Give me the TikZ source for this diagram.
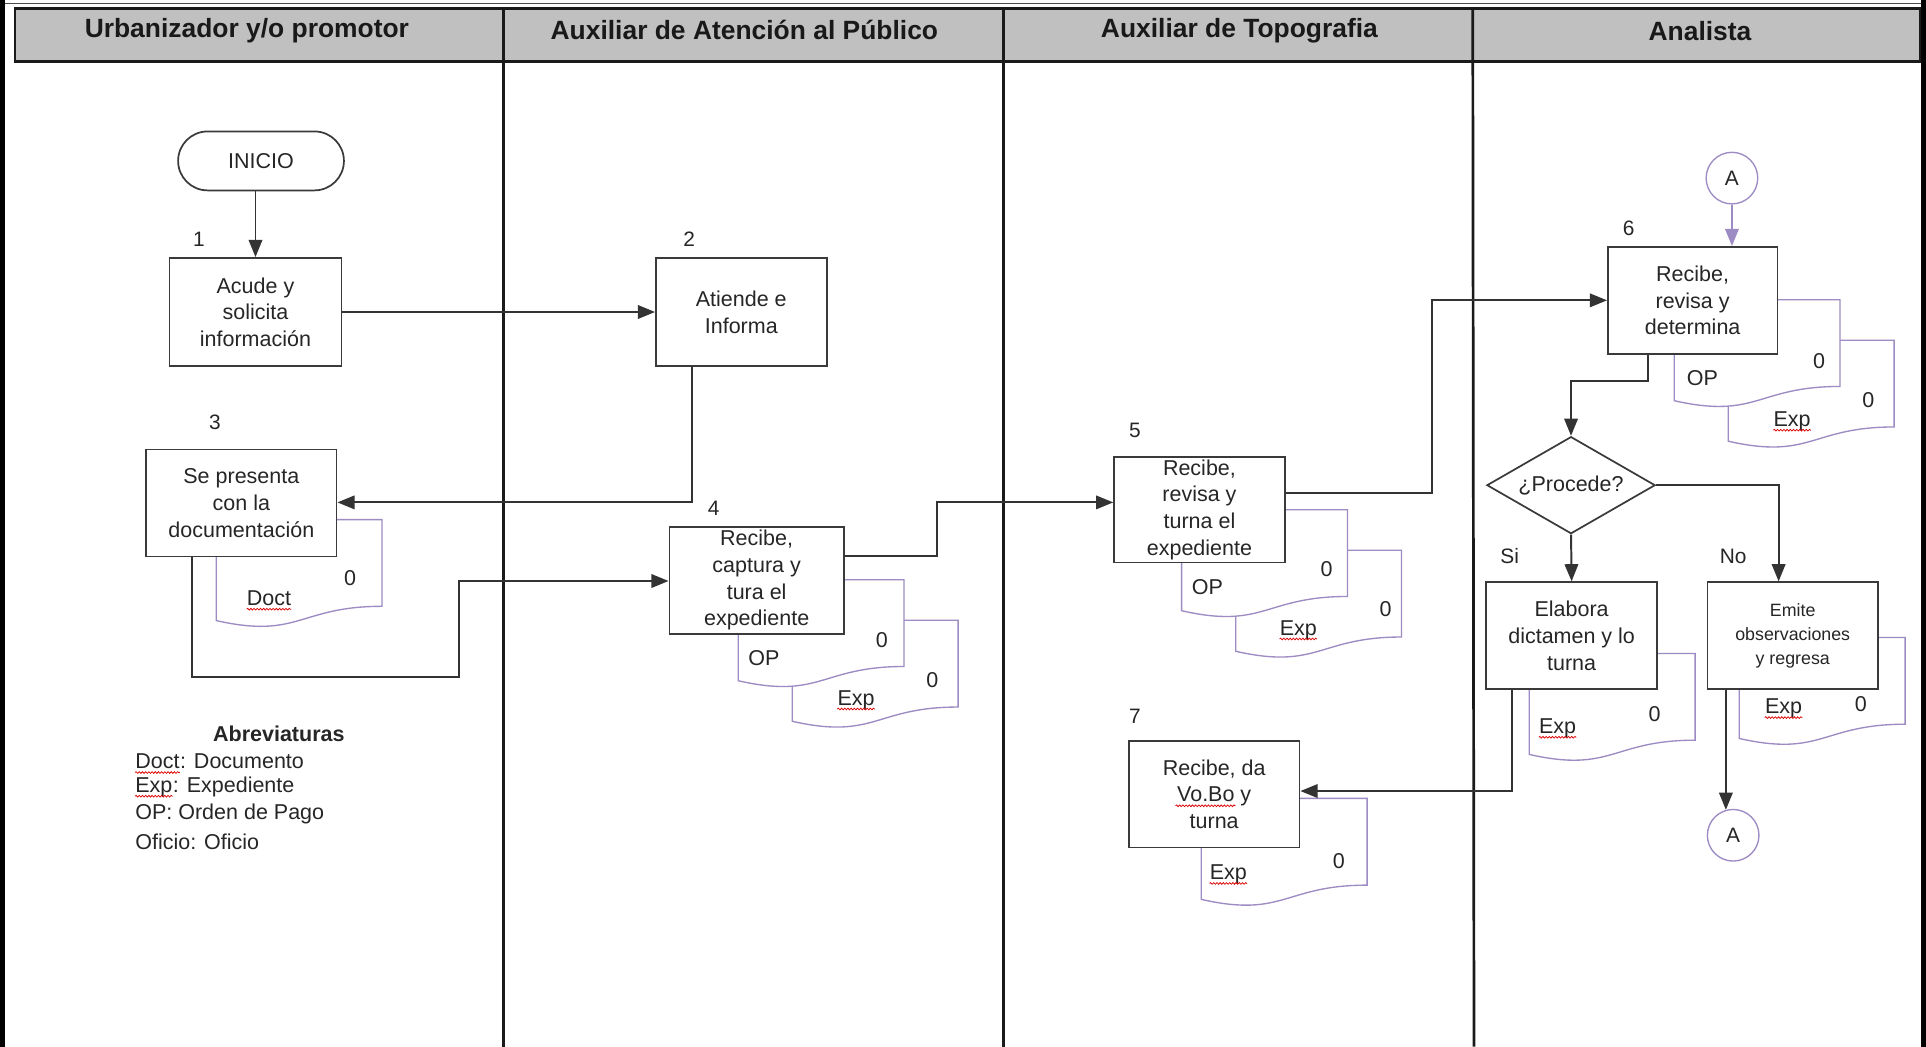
\documentclass[tikz,border=0pt]{standalone}
\usepackage{fontspec}
\setmainfont{Liberation Sans}
\usetikzlibrary{arrows.meta,shapes.geometric,decorations.pathmorphing}
\definecolor{txt}{HTML}{262626}
\definecolor{lanec}{HTML}{1A1A1A}
\definecolor{conn}{HTML}{333333}
\definecolor{boxc}{HTML}{3A3A3A}
\definecolor{docc}{HTML}{9D8CC4}
\definecolor{hdr}{HTML}{C0C0C0}
\newcommand\docshape[2]{\draw[docline] (#1,#2) -- ({#1+135},#2) -- ({#1+135},{#2+70.6}) .. controls ({#1+67.5},{#2+70.6}) and ({#1+67.5},{#2+97.5}) .. (#1,{#2+82.2}) -- cycle;}
\begin{document}
\begin{tikzpicture}[x=1pt,y=-1pt,
  box/.style={draw=boxc, line width=1.4pt, fill=white, inner sep=0pt, align=center, text=txt,
    font=\fontsize{17.5}{21.7}\selectfont, minimum width=139pt, minimum height=87pt},
  lbl/.style={inner sep=0pt, text=txt, font=\fontsize{17.5}{21}\selectfont},
  num/.style={inner sep=0pt, text=txt, font=\fontsize{17}{20}\selectfont},
  hd/.style={inner sep=0pt, text=black!90, font=\fontsize{21.5}{24}\selectfont\bfseries},
  arr/.style={draw=conn, line width=1.6pt, -{Triangle[length=14pt,width=11pt]}},
  parr/.style={draw=docc, line width=1.6pt, -{Triangle[length=14pt,width=11pt]}},
  docline/.style={draw=docc, line width=1.1pt, fill=white},
  spell/.style={draw=red!85!black, line width=0.6pt, decorate,
    decoration={snake, amplitude=0.7pt, segment length=2.6pt}},
  conA/.style={circle, draw=docc, line width=1.1pt, fill=white, minimum size=42pt,
    inner sep=0pt, text=txt, font=\fontsize{17}{20}\selectfont}
]
\useasboundingbox (0,0) rectangle (1568,852);
\fill[white] (0,0) rectangle (1568,852);
% page edges
\fill[black] (0,0) rectangle (4,852);
\fill[black] (1564,0) rectangle (1568,852);
\draw[gray!60!black, line width=1pt] (4,3) -- (1564,3);
% header
\draw[fill=hdr, draw=lanec, line width=2pt] (12,7) rectangle (1563,50);
\draw[lanec, line width=2.2pt] (410,7) -- (410,852);
\draw[lanec, line width=2.2pt] (817,7) -- (817,852);
\draw[lanec, line width=2.2pt] (1199,7) -- (1200,852);
\node[hd] (h1) at (201,25) {Urbanizador y/o promotor};
\node[hd] (h2) at (606,24) {Auxiliar de Atención al Público};
\node[hd] (h3) at (1009,25) {Auxiliar de Topografia};
\node[hd] (h4) at (1384,25) {Analista};

% ---------- documents ----------
\docshape{176}{423}
\node[lbl] (d3t) at (219,487) {Doct}; \node[lbl] (d3z) at (285,471) {0};
\draw[spell] ([yshift=-3pt]d3t.base west) -- ([yshift=-3pt]d3t.base east);

\docshape{645}{505}
\node[lbl] (d4et) at (697,570) {Exp}; \node[lbl] (d4ez) at (759,554) {0};
\draw[spell] ([yshift=-3pt]d4et.base west) -- ([yshift=-3pt]d4et.base east);
\docshape{601}{472}
\node[lbl] (d4ot) at (622,536) {OP}; \node[lbl] (d4oz) at (718,521) {0};

\docshape{1006}{448}
\node[lbl] (d5et) at (1057,513) {Exp}; \node[lbl] (d5ez) at (1128,496) {0};
\draw[spell] ([yshift=-3pt]d5et.base west) -- ([yshift=-3pt]d5et.base east);
\docshape{962}{415}
\node[lbl] (d5ot) at (983,478) {OP}; \node[lbl] (d5oz) at (1080,463) {0};

\docshape{1407}{277}
\node[lbl] (d6et) at (1459,343) {Exp}; \node[lbl] (d6ez) at (1521,326) {0};
\draw[spell] ([yshift=-3pt]d6et.base west) -- ([yshift=-3pt]d6et.base east);
\docshape{1363}{244}
\node[lbl] (d6ot) at (1386,308) {OP}; \node[lbl] (d6oz) at (1481,294) {0};

\docshape{1245}{532}
\node[lbl] (d8et) at (1268,593) {Exp}; \node[lbl] (d8ez) at (1347,581) {0};
\draw[spell] ([yshift=-3pt]d8et.base west) -- ([yshift=-3pt]d8et.base east);

\docshape{1416}{519}
\node[lbl] (d9et) at (1452,577) {Exp}; \node[lbl] (d9ez) at (1515,573) {0};
\draw[spell] ([yshift=-3pt]d9et.base west) -- ([yshift=-3pt]d9et.base east);

\docshape{978}{650}
\node[lbl] (d7et) at (1000,712) {Exp}; \node[lbl] (d7ez) at (1090,701) {0};
\draw[spell] ([yshift=-3pt]d7et.base west) -- ([yshift=-3pt]d7et.base east);

% ---------- process nodes ----------
\node[box, rounded corners=24pt, minimum width=135pt, minimum height=48pt] (inicio) at (212.5,131) {INICIO};
\node[box, minimum width=140pt, minimum height=88pt] (b1) at (208,254) {Acude y\\solicita\\información};
\node[box, minimum width=139pt, minimum height=88pt] (b2) at (603.5,254) {Atiende e\\Informa};
\node[box, minimum width=155pt] (b3) at (196.5,409.5) {Se presenta\\con la\\documentación};
\node[box, minimum width=142pt] (b4) at (616,472.5) {Recibe,\\captura y\\tura el\\expediente};
\node[box, minimum height=86pt] (b5) at (976.5,415) {Recibe,\\revisa y\\turna el\\expediente};
\node[box, minimum width=138pt] (b6) at (1378,244.5) {Recibe,\\revisa y\\determina};
\node[box, diamond, aspect=1.7, minimum width=137pt, minimum height=79pt] (dia) at (1279,395) {¿Procede?};
\node[box] (b8) at (1279.5,517.5) {Elabora\\dictamen y lo\\turna};
\node[box, font=\fontsize{14.5}{19.5}\selectfont] (b9) at (1459.5,517.5) {Emite\\observaciones\\y regresa};
\node[box] (b7) at (988.5,646.5) {Recibe, da\\Vo.Bo y\\turna};
\draw[spell] (957,656) -- (1006,656);

\node[conA] (A1) at (1410,145) {A};
\node[conA] (A2) at (1411,680) {A};

% numbers and labels
\node[num] (n1) at (162,195) {1};
\node[num] (n2) at (561,195) {2};
\node[num] (n3) at (175,344) {3};
\node[num] (n4) at (581,414) {4};
\node[num] (n5) at (924,350) {5};
\node[num] (n6) at (1326,186) {6};
\node[num] (n7) at (924,583) {7};
\node[num] (lsi) at (1229,453) {Si};
\node[num] (lno) at (1411,453) {No};

% ---------- connectors ----------
\coordinate (c23) at (563,409);
\coordinate (c34a) at (156,551);
\coordinate (c34b) at (374,551);
\coordinate (c34c) at (374,473);
\coordinate (c45a) at (763,453);
\coordinate (c45b) at (763,409);
\coordinate (c56a) at (1166,401);
\coordinate (c6d) at (1342,310);
\coordinate (c9) at (1448,395);
\coordinate (c87) at (1231,644);

\draw[arr] (inicio.south -| b1.north) -- (b1.north);
\draw[arr] (b1.east) -- (b2.west);
\draw[arr] (b2.south -| c23) -- (c23) -- (b3.east |- c23);
\draw[arr] (b3.south -| c34a) -- (c34a) -- (c34b) -- (c34c) -- (b4.west |- c34c);
\draw[arr] (b4.east |- c45a) -- (c45a) -- (c45b) -- (b5.west |- c45b);
\draw[arr] (b5.east |- c56a) -- (c56a) |- (b6.west);
\draw[parr] (A1.south) -- (A1.south |- b6.north);
\draw[arr] (b6.south -| c6d) -- (c6d) -| (dia.north);
\draw[arr] (dia.south) -- (b8.north);
\draw[arr] (dia.east) -- (c9) -- (b9.north -| c9);
\draw[arr] (b9.south -| A2.106) -- (A2.106);
\draw[arr] (b8.south -| c87) -- (c87) -- (b7.east |- c87);

% ---------- legend ----------
\node[lbl, font=\fontsize{17.5}{21}\selectfont\bfseries] (lgh) at (227,597) {Abreviaturas};
\node[lbl, anchor=west] (lg1a) at (110,620) {Doct};
\node[lbl, anchor=base west] (lg1b) at (lg1a.base east) {: Documento};
\node[lbl, anchor=west] (lg2a) at (110,641) {Exp};
\node[lbl, anchor=base west] (lg2b) at (lg2a.base east) {: Expediente};
\node[lbl, anchor=west] (lg3) at (110,663) {OP: Orden de Pago};
\node[lbl, anchor=west] (lg4) at (110,685) {Oficio: Oficio};
\draw[spell] ([yshift=-3pt]lg1a.base west) -- ([yshift=-3pt]lg1a.base east);
\draw[spell] ([yshift=-3pt]lg2a.base west) -- ([yshift=-3pt]lg2a.base east);
\end{tikzpicture}
\end{document}
